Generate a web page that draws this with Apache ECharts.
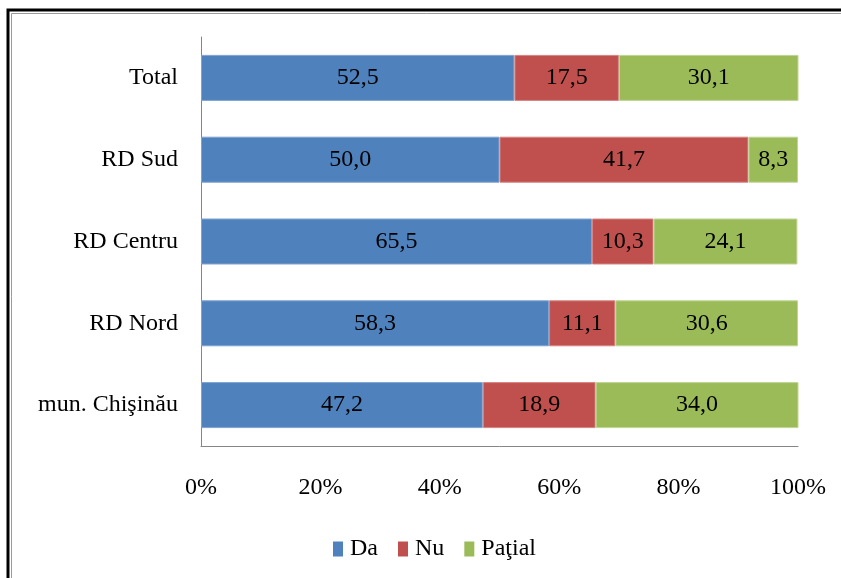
<!DOCTYPE html>
<html>
<head>
<meta charset="utf-8">
<script src="https://cdn.jsdelivr.net/npm/echarts@6/dist/echarts.min.js"></script>
<style>
  html, body { margin: 0; padding: 0; background: #fff; }
  #chart { width: 841px; height: 578px; }
</style>
</head>
<body>
<div id="chart"></div>
<script>
var categories = ['Total', 'RD Sud', 'RD Centru', 'RD Nord', 'mun. Chişinău'];
var da = [52.5, 50.0, 65.5, 58.3, 47.2];
var nu = [17.5, 41.7, 10.3, 11.1, 18.9];
var partial = [30.1, 8.3, 24.1, 30.6, 34.0];
var xTicks = [0, 20, 40, 60, 80, 100];

var serif = '"Liberation Serif", "DejaVu Serif", serif';

function barSeries(name, values, color, border) {
    return {
        name: name,
        type: 'bar',
        stack: 'total',
        barWidth: 46,
        itemStyle: {
            color: color,
            borderColor: border,
            borderWidth: 1
        },
        label: {
            show: true,
            position: 'inside',
            color: '#000',
            fontFamily: serif,
            fontSize: 24,
            formatter: function (p) {
                return p.value.toFixed(1).replace('.', ',');
            }
        },
        data: values
    };
}

var chart = echarts.init(document.getElementById('chart'));

var option = {
    animation: false,
    textStyle: { fontFamily: serif },
    graphic: [
        {
            type: 'rect',
            shape: { x: 8, y: 10, width: 900, height: 700 },
            style: { fill: 'none', stroke: '#000', lineWidth: 3 },
            silent: true
        },
        {
            type: 'rect',
            shape: { x: 11.5, y: 13.5, width: 900, height: 700 },
            style: { fill: 'none', stroke: '#9a9a9a', lineWidth: 1 },
            silent: true
        }
    ],
    grid: {
        left: 201,
        right: 43,
        top: 37,
        bottom: 132
    },
    legend: {
        bottom: 12,
        left: 328,
        itemWidth: 10,
        itemHeight: 15,
        itemGap: 20,
        icon: 'rect',
        itemStyle: { borderWidth: 0 },
        textStyle: { fontFamily: serif, fontSize: 24, color: '#000', padding: [0, 0, 0, 2] },
        data: ['Da', 'Nu', 'Paţial']
    },
    xAxis: {
        type: 'value',
        min: 0,
        max: 100,
        interval: 20,
        axisLine: { show: true, lineStyle: { color: '#868686' } },
        axisTick: { show: false },
        splitLine: { show: false },
        axisLabel: {
            margin: 30,
            color: '#000',
            fontFamily: serif,
            fontSize: 24,
            formatter: function (v) {
                return xTicks.indexOf(v) >= 0 ? v + '%' : '';
            }
        }
    },
    yAxis: {
        type: 'category',
        inverse: true,
        data: categories,
        axisLine: { show: true, lineStyle: { color: '#868686' } },
        axisTick: { show: false },
        axisLabel: {
            margin: 23,
            color: '#000',
            fontFamily: serif,
            fontSize: 24
        }
    },
    series: [
        barSeries('Da', da, '#4F81BD', '#7fa3d0'),
        barSeries('Nu', nu, '#C0504D', '#d58583'),
        barSeries('Paţial', partial, '#9BBB59', '#bfd595')
    ]
};

chart.setOption(option);
</script>
</body>
</html>
